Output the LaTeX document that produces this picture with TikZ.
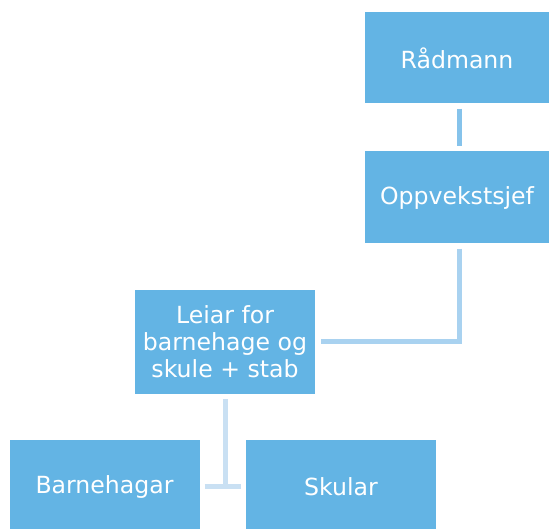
\documentclass[tikz,border=0pt]{standalone}
\usepackage{fontspec}
\setmainfont{DejaVu Sans}
\definecolor{boxblue}{HTML}{63B4E4}
\definecolor{lineA}{HTML}{86C3EB}
\definecolor{lineB}{HTML}{A9D2F0}
\definecolor{lineC}{HTML}{C9E0F3}
\begin{document}
\begin{tikzpicture}[x=1pt,y=-1pt,
  orgbox/.style={fill=boxblue,draw=none,text=white,align=center,inner sep=0pt,
    font=\fontsize{23.6}{27}\selectfont},
  conn/.style={line width=5pt}]
\useasboundingbox (0,0) rectangle (549,529);
\node[orgbox,minimum width=184pt,minimum height=91pt] (rad) at (457,58) {Rådmann};
\node[orgbox,minimum width=184pt,minimum height=92pt] (opp) at (457,197.5) {Oppvekstsjef};
\node[orgbox,minimum width=180pt,minimum height=104pt] (lei) at (225,342) {Leiar for\\barnehage og\\skule + stab};
\node[orgbox,minimum width=190pt,minimum height=93pt] (bar) at (104.5,486.5) {Barnehagar};
\node[orgbox,minimum width=190pt,minimum height=93pt] (sku) at (341,486.5) {Skular};
\draw[conn,lineA,shorten <=5pt,shorten >=5pt] ([xshift=2.5pt]rad.south) -- ([xshift=2.5pt]opp.north);
\draw[conn,lineB,shorten <=5pt,shorten >=6pt] ([xshift=2.5pt]opp.south) |- (lei.east);
\coordinate (mid) at (lei.south |- bar.east);
\draw[conn,lineC,shorten <=5pt] (lei.south) -- (mid);
\draw[conn,lineC,shorten <=5pt,shorten >=5pt] (bar.east) -- (sku.west);
\end{tikzpicture}
\end{document}
